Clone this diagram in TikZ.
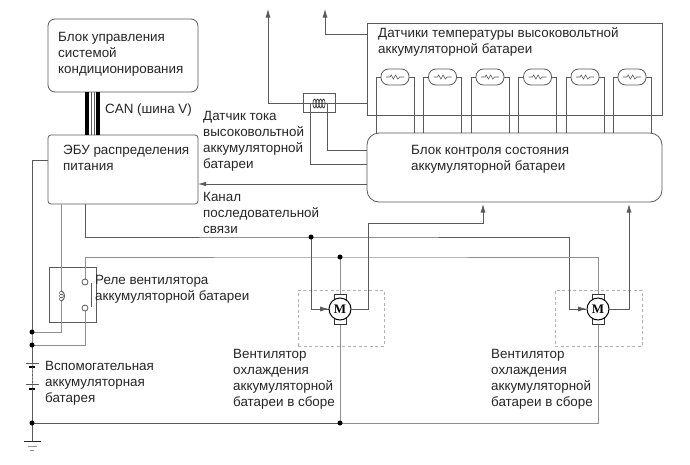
\documentclass[tikz,border=0pt]{standalone}
\usepackage{fontspec}
\setmainfont{Liberation Sans}
\newfontfamily\motorfont{Liberation Serif}
\usetikzlibrary{arrows.meta,calc}
\definecolor{wire}{HTML}{5A5A5A}
\definecolor{wirelight}{HTML}{909090}
\definecolor{ink}{HTML}{262626}
\tikzset{
  wireline/.style={draw=wire,line width=0.8pt},
  powerline/.style={draw=wirelight,line width=1pt},
  arrowline/.style={wireline,-{Latex[length=8.5pt,width=5pt]}},
  unitbox/.style={draw=wire,line width=0.8pt,fill=white,inner sep=0pt,outer sep=0pt},
  label/.style={text=ink,anchor=west,align=left,inner sep=0pt,yshift=-1.5pt,font=\fontsize{13.4}{16}\selectfont},
  junction/.style={circle,fill=black,inner sep=0pt,minimum size=5pt},
  dashbox/.style={draw=wirelight!70,line width=0.7pt,dashed,dash pattern=on 3pt off 2.5pt},
  pill/.style={draw=wire,line width=0.8pt,fill=white,rounded corners=7.5pt,minimum width=28pt,minimum height=16pt,inner sep=0pt,outer sep=0pt},
  motor/.style={circle,draw=black,line width=1pt,fill=white,minimum size=22pt,inner sep=0pt,outer sep=0pt,font=\motorfont\bfseries\fontsize{13}{13}\selectfont},
  brush/.style={draw=black!80,line width=0.9pt,fill=white,minimum width=12pt,minimum height=30pt,inner sep=0pt,outer sep=0pt},
  canline/.style={draw=black,line width=3.6pt},
  canthin/.style={draw=wire,line width=1pt}
}
\begin{document}
\begin{tikzpicture}[x=1pt,y=-1pt]
\useasboundingbox (0,0) rectangle (690,464);
\fill[white] (0,0) rectangle (690,464);

% Control units
\node[unitbox,rounded corners=7pt,minimum width=150pt,minimum height=73pt] (hvac) at (123,55.5) {};
\node[unitbox,rounded corners=3pt,minimum width=150pt,minimum height=69pt] (ecu) at (123,169.5) {};
\node[unitbox,fill=none,minimum width=295pt,minimum height=92pt] (sensors) at (514.5,69) {};

% Temperature sensors and their leads to the monitoring unit
\foreach \i/\xc in {1/395,2/442.5,3/490,4/537.5,5/585,6/632}{
  \coordinate (la\i) at (\xc-19,133);
  \coordinate (lb\i) at (\xc+19,133);
  \draw[wireline] (la\i) |- (\xc-14,77) (lb\i) |- (\xc+14,77);
  \node[pill] (th\i) at (\xc,77) {};
  \draw[draw=wire,line width=0.6pt] (\xc-9,77) -- (\xc-5,77) -- (\xc-3.8,75) -- (\xc-1.6,79) -- (\xc+0.6,75) -- (\xc+2.8,79) -- (\xc+4.6,77) -- (\xc+9,77);
}
\node[unitbox,rounded corners=12pt,minimum width=295pt,minimum height=69pt] (monitor) at (514.5,167.5) {};

% Current sensor
\node[draw=wire,line width=0.8pt,minimum width=32pt,minimum height=19pt,inner sep=0pt,outer sep=0pt] (cursens) at (319,102.5) {};
\coordinate (up1) at (268,9);
\coordinate (up2) at (325,9);
\draw[arrowline] (sensors.west |- 0,103) -- (268,103) -- (up1);
\draw[arrowline] (sensors.west |- 0,34) -- (325,34) -- (up2);
\foreach \cx in {314.5,317.5,320.5,323.5}
  \draw[draw=ink,line width=0.6pt] (\cx,103.5) ellipse (1.6pt and 4.5pt);
\draw[wireline] (310,104) -- (310,164) -- (monitor.west |- 0,164);
\draw[wireline] (327,104) -- (327,150) -- (monitor.west |- 0,150);

% Serial link
\draw[wireline,-{Latex[length=8pt,width=4.5pt]}] (monitor.west |- 0,184) -- (ecu.east |- 0,184);

% CAN bus
\draw[canline] (87,92) -- (87,135);
\draw[canthin] (91.5,92) -- (91.5,135);
\draw[canthin] (94,92) -- (94,135);
\draw[canline] (98,92) -- (98,135);

% Wire junction positions
\coordinate (jg) at (32,423);
\coordinate (jb) at (32,345);
\coordinate (jc) at (32,332);
\coordinate (jm1) at (311,237);
\coordinate (jp1) at (340,257);
\coordinate (jg1) at (340,423);

% Fan assemblies
\node[dashbox,minimum width=86pt,minimum height=56pt,inner sep=0pt] (fan1) at (341,318) {};
\node[dashbox,minimum width=87pt,minimum height=56pt,inner sep=0pt] (fan2) at (598.5,318) {};

% Relay
\node[draw=wire,line width=0.8pt,minimum width=47pt,minimum height=55pt,inner sep=0pt] (relay) at (72.5,294.5) {};
\coordinate (coiltop) at (61,291);
\coordinate (coilbot) at (61,301);

% Supply and control wiring
\draw[powerline] (jc) -- (jg);
\draw[wireline] (ecu.west |- 0,160) -- (32,160) -- (jc);
\draw[powerline] (ecu.south -| coiltop) -- (coiltop) (coilbot) -- (61,332) -- (jc);
\draw[draw=wire,line width=0.7pt] (coiltop) .. controls (66,292) and (66,300) .. (coilbot);
\foreach \cy in {293,296,299}
  \draw[draw=wire,line width=0.6pt] (61.5,\cy) ellipse (2pt and 1.7pt);
\draw[wireline] (85,204) -- (85,237) -- (jm1) -- (569,237) -- (569,309) -- (586,309);
\draw[powerline] (85,282) -- (85,257) -- (jp1) -- (598,257) -- (598,294);
\draw[powerline] (85,308) -- (85,345) -- (jb);
\draw[wireline] (jm1) -- (311,309) -- (329,309);
\draw[powerline] (jp1) -- (340,294);
\draw[powerline] (340,324) -- (jg1);
\draw[powerline] (598,324) -- (598,423) -- (jg1);
\draw[wireline] (jg1) -- (jg);

% Relay contacts
\node[circle,draw=wire,line width=0.8pt,fill=white,minimum size=6pt,inner sep=0pt] (ctop) at (85,282) {};
\node[circle,draw=wire,line width=0.8pt,fill=white,minimum size=6pt,inner sep=0pt] (cbot) at (85,308) {};
\draw[draw=wire,line width=1pt] (91,283) -- (91,307);

% Motors
\foreach \nm/\cx in {1/340,2/598}{
  \node[brush] (br\nm) at (\cx,309) {};
  \node[motor] (mot\nm) at (\cx,309) {M};
}
\draw[wireline,-{Latex[length=9pt,width=5pt]}] (311,309) -- (mot1.west);
\draw[wireline,-{Latex[length=9pt,width=5pt]}] (569,309) -- (mot2.west);
\draw[arrowline,shorten >=2pt] (mot1.east) -- (368,309) -- (368,223) -- (483,223) -- (monitor.south -| 483,0);
\draw[arrowline,shorten >=2pt] (mot2.east) -- (629,309) -- (monitor.south -| 629,0);

% Auxiliary battery
\coordinate (batt1) at (32,363);
\coordinate (batt2) at (32,367);
\coordinate (batt3) at (32,384);
\coordinate (batt4) at (32,389);
\draw[wireline] (jb) -- (batt1);
\draw[draw=wire,line width=0.6pt] (26,363) -- (39,363) (26,384) -- (39,384);
\draw[draw=black,line width=1.1pt] (29,367) -- (35,367) (29,389) -- (35,389);
\draw[draw=wire,line width=0.6pt,dash pattern=on 2pt off 2pt on 1pt off 2pt] (batt2) -- (batt3);
\draw[wireline] (batt4) -- (jg);

% Ground
\coordinate (gnd) at (32,441);
\draw[wireline] (jg) -- (gnd);
\draw[draw=black!85,line width=0.9pt] (24,441) -- (41,441);
\draw[draw=wirelight,line width=0.7pt] (28,446) -- (37,446) (30,450) -- (34,450);

% Junction dots
\node[junction] (dg) at (jg) {};
\node[junction] (db) at (jb) {};
\node[junction] (dc) at (jc) {};
\node[junction] (dm1) at (jm1) {};
\node[junction] (dp1) at (jp1) {};
\node[junction] (dg1) at (jg1) {};

% Labels
\node[label] (t1) at (58,53) {Блок управления\\системой\\кондиционирования};
\node[label] (t2) at (105,109) {CAN (шина V)};
\node[label] (t3) at (63,156) {ЭБУ распределения\\питания};
\node[label] (t4) at (203,139.5) {Датчик тока\\высоковольтной\\аккумуляторной\\батареи};
\node[label] (t5) at (203,211) {Канал\\последовательной\\связи};
\node[label] (t6) at (378,40) {Датчики температуры высоковольтной\\аккумуляторной батареи};
\node[label] (t7) at (411,158) {Блок контроля состояния\\аккумуляторной батареи};
\node[label] (t8) at (95,288) {Реле вентилятора\\аккумуляторной батареи};
\node[label] (t9) at (45,382) {Вспомогательная\\аккумуляторная\\батарея};
\node[label] (t10) at (233,378) {Вентилятор\\охлаждения\\аккумуляторной\\батареи в сборе};
\node[label] (t11) at (491,378) {Вентилятор\\охлаждения\\аккумуляторной\\батареи в сборе};
\end{tikzpicture}
\end{document}
